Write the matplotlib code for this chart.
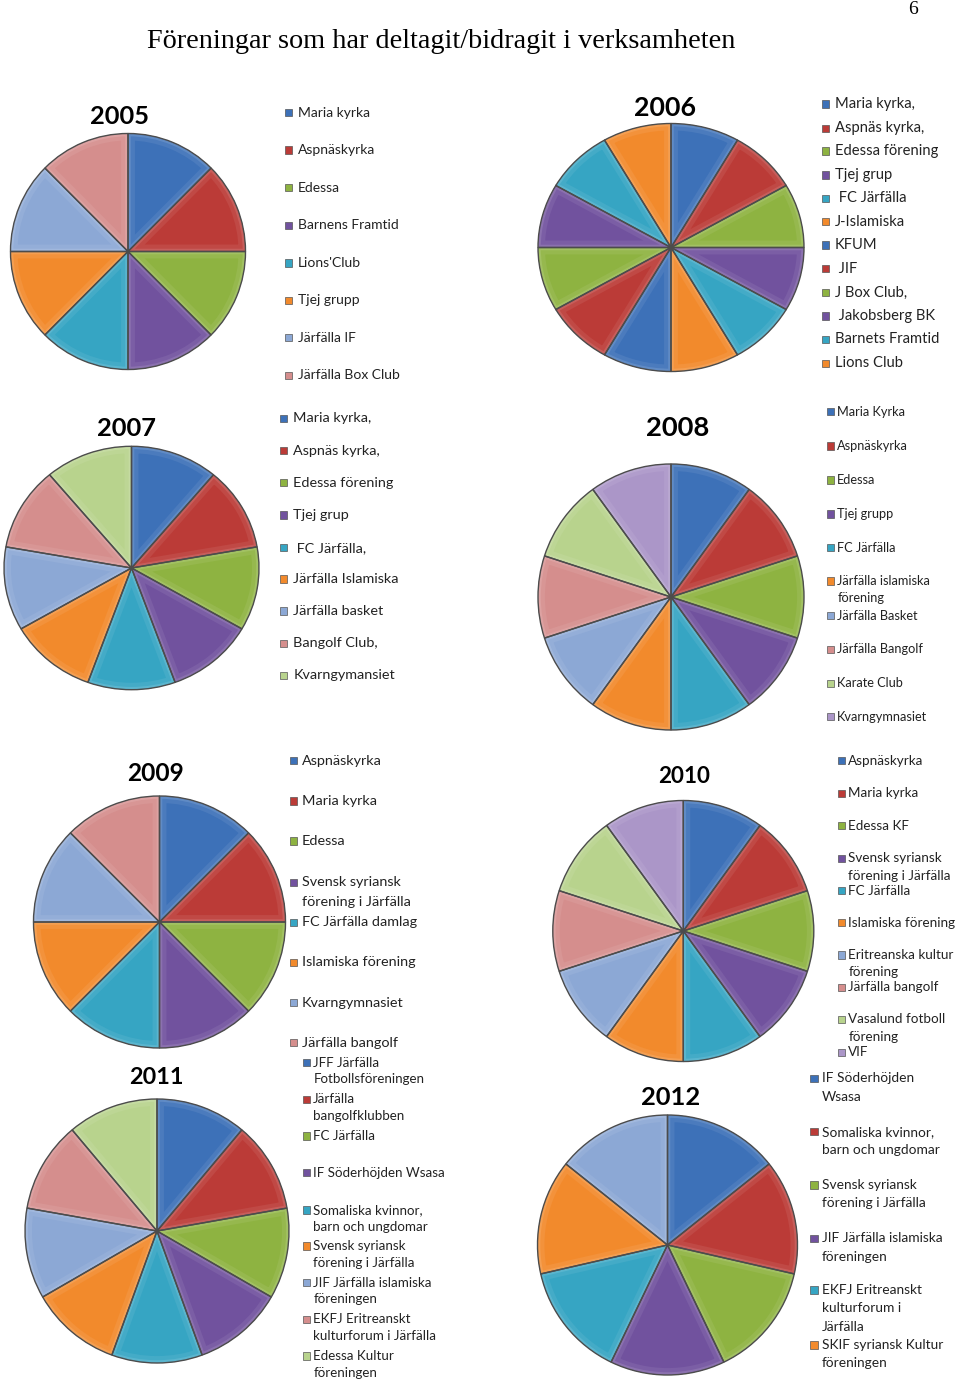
import matplotlib
matplotlib.use("Agg")
import matplotlib.pyplot as plt
from matplotlib.patches import Rectangle, Wedge
from matplotlib.colors import to_rgb

# ---------------- data ----------------
years = ["2005", "2006", "2007", "2008", "2009", "2010", "2011", "2012"]

labels_2005 = ["Maria kyrka", "Aspnäskyrka", "Edessa", "Barnens Framtid",
               "Lions'Club", "Tjej grupp", "Järfälla IF", "Järfälla Box Club"]
values_2005 = [1, 1, 1, 1, 1, 1, 1, 1]

labels_2006 = ["Maria kyrka,", "Aspnäs kyrka,", "Edessa förening", "Tjej grup",
               " FC Järfälla", "J-Islamiska", "KFUM", " JIF", "J Box Club,",
               " Jakobsberg BK", "Barnets Framtid", "Lions Club"]
values_2006 = [1, 1, 1, 1, 1, 1, 1, 1, 1, 1, 1, 1]

labels_2007 = ["Maria kyrka,", "Aspnäs kyrka,", "Edessa förening", "Tjej grup",
               " FC Järfälla,", "Järfälla Islamiska", "Järfälla basket",
               "Bangolf Club,", "Kvarngymansiet"]
values_2007 = [1, 1, 1, 1, 1, 1, 1, 1, 1]

labels_2008 = ["Maria Kyrka", "Aspnäskyrka", "Edessa", "Tjej grupp", "FC Järfälla",
               "Järfälla islamiska\nförening", "Järfälla Basket", "Järfälla Bangolf",
               "Karate Club", "Kvarngymnasiet"]
values_2008 = [1, 1, 1, 1, 1, 1, 1, 1, 1, 1]

labels_2009 = ["Aspnäskyrka", "Maria kyrka", "Edessa",
               "Svensk syriansk\nförening i Järfälla", "FC Järfälla damlag",
               "Islamiska förening", "Kvarngymnasiet", "Järfälla bangolf"]
values_2009 = [1, 1, 1, 1, 1, 1, 1, 1]

labels_2010 = ["Aspnäskyrka", "Maria kyrka", "Edessa KF",
               "Svensk syriansk\nförening i Järfälla", "FC Järfälla",
               "Islamiska förening", "Eritreanska kultur\nförening",
               "Järfälla bangolf", "Vasalund fotboll\nförening", "VIF"]
values_2010 = [1, 1, 1, 1, 1, 1, 1, 1, 1, 1]

labels_2011 = ["JFF Järfälla\nFotbollsföreningen", "Järfälla\nbangolfklubben",
               "FC Järfälla", "IF Söderhöjden Wsasa",
               "Somaliska kvinnor,\nbarn och ungdomar",
               "Svensk syriansk\nförening i Järfälla",
               "JIF Järfälla islamiska\nföreningen",
               "EKFJ Eritreanskt\nkulturforum i Järfälla",
               "Edessa Kultur\nföreningen"]
values_2011 = [1, 1, 1, 1, 1, 1, 1, 1, 1]

labels_2012 = ["IF Söderhöjden\nWsasa", "Somaliska kvinnor,\nbarn och ungdomar",
               "Svensk syriansk\nförening i Järfälla",
               "JIF Järfälla islamiska\nföreningen",
               "EKFJ Eritreanskt\nkulturforum i\nJärfälla",
               "SKIF syriansk Kultur\nföreningen"]
values_2012 = [1, 1, 1, 1, 1, 1, 1]

main_title = "Föreningar som har deltagit/bidragit i verksamheten"
page_number = "6"

# ---------------- style ----------------
pal_ext = ["#3D71B8", "#BB3B37", "#8EB341", "#71529E", "#36A5C3", "#F28A2C",
           "#8CA8D5", "#D58E8D", "#B8D38D", "#AB96C8"]
pal_rep = ["#3D71B8", "#BB3B37", "#8EB341", "#71529E", "#36A5C3", "#F28A2C"] * 2
EDGE = "#4C4C4C"

W, H = 960, 1381
fig = plt.figure(figsize=(W / 100, H / 100), dpi=100)
fig.patch.set_facecolor("white")
renderer = fig.canvas.get_renderer()


def fx(px):
    return px / W


def fy(py):
    return 1 - py / H


def lighten(c, f):
    r, g, b = to_rgb(c)
    return (r + (1 - r) * f, g + (1 - g) * f, b + (1 - b) * f)


def fit_text(t, target_w):
    w = t.get_window_extent(renderer).width
    t.set_fontsize(t.get_fontsize() * target_w / w)
    return t.get_fontsize()


def draw_pie(values, colors, cx, cy, rx, ry):
    ax = fig.add_axes([fx(cx - rx), fy(cy + ry), 2 * rx / W, 2 * ry / H])
    wedges, _ = ax.pie(values, colors=colors[:len(values)], startangle=90,
                       counterclock=False, radius=1,
                       wedgeprops=dict(edgecolor="none", linewidth=0))
    for w in wedges:
        w.set_clip_on(False)
        fc = w.get_facecolor()
        # soft bevel: lighter rim inside each wedge
        rim2 = Wedge(w.center, w.r, w.theta1, w.theta2, facecolor="none",
                     edgecolor=lighten(fc[:3], 0.07), linewidth=10, zorder=1.9)
        ax.add_patch(rim2)
        rim2.set_clip_path(w)
        rim = Wedge(w.center, w.r, w.theta1, w.theta2, facecolor="none",
                    edgecolor=lighten(fc[:3], 0.18), linewidth=4, zorder=2)
        ax.add_patch(rim)
        rim.set_clip_path(w)
        out = Wedge(w.center, w.r, w.theta1, w.theta2, facecolor="none",
                    edgecolor=EDGE, linewidth=1.0, zorder=3)
        out.set_clip_on(False)
        ax.add_patch(out)
    ax.set_xlim(-1, 1)
    ax.set_ylim(-1, 1)
    ax.set_aspect("auto")
    ax.axis("off")


def draw_title(txt, cx, cy, target_w):
    t = fig.text(fx(cx), fy(cy), txt, fontsize=20, family="Lato",
                 fontweight="bold", ha="center", va="center", color="black")
    fit_text(t, target_w)


def draw_legend(labels, colors, mx, tx, ys, gap, ref_w, sq=7.5):
    probe = fig.text(0, 0, labels[0].split("\n")[0], fontsize=10, family="Lato")
    fs = fit_text(probe, ref_w)
    probe.remove()
    for lab, col, y in zip(labels, colors, ys):
        fig.add_artist(Rectangle((fx(mx - sq / 2), fy(y + sq / 2)), sq / W, sq / H,
                                 transform=fig.transFigure, facecolor=col,
                                 edgecolor="#555555", linewidth=0.5))
        for i, line in enumerate(lab.split("\n")):
            fig.text(fx(tx), fy(y + i * gap), line, fontsize=fs, family="Lato",
                     ha="left", va="center", color="#222222")


# main title and page number
tt = fig.text(fx(147), fy(42), main_title, fontsize=20,
              family="Liberation Serif", ha="left", va="center", color="black")
fit_text(tt, 588)
fig.text(fx(913), fy(9), page_number, fontsize=14, family="Liberation Serif",
         ha="center", va="center", color="black")

# 2005
draw_pie(values_2005, pal_ext, 128, 251.5, 117.5, 118)
draw_title(years[0], 119.5, 116.7, 59)
draw_legend(labels_2005, pal_ext, 288.5, 297.7,
            [112.7, 150, 187.7, 225.3, 263, 300.3, 337.7, 375.3], 17, 72)

# 2006
draw_pie(values_2006, pal_rep, 671, 247.5, 133, 124)
draw_title(years[1], 665, 108.3, 62)
draw_legend(labels_2006, pal_rep, 825.3, 835,
            [104, 128.3, 151, 175, 198.3, 221.7, 245, 268.7, 292.7, 316, 339.3, 363.3],
            17, 80)

# 2007
draw_pie(values_2007, pal_ext, 131.5, 568, 127.5, 121.7)
draw_title(years[2], 127, 428.3, 59.3)
draw_legend(labels_2007, pal_ext, 283.3, 293.3,
            [418.3, 450.7, 482.7, 515, 547.7, 579, 611, 643.3, 675.3], 17, 78)

# 2008
draw_pie(values_2008, pal_ext, 671, 597, 133, 133)
draw_title(years[3], 677.5, 428.3, 63.7)
draw_legend(labels_2008, pal_ext, 830.3, 837.3,
            [411.7, 446, 480, 514, 547.7, 581, 615.7, 649.3, 683.3, 716.7], 17.3, 68)

# 2009
draw_pie(values_2009, pal_ext, 159.5, 922, 126, 126)
draw_title(years[4], 155.8, 773.3, 57)
draw_legend(labels_2009, pal_ext, 293.3, 301.7,
            [760.7, 801, 841, 882.3, 922.3, 962.3, 1002.7, 1042.7], 19.3, 80)

# 2010
draw_pie(values_2010, pal_ext, 683.3, 931, 130.5, 130.5)
draw_title(years[5], 684.5, 776, 52.3)
draw_legend(labels_2010, pal_ext, 841.3, 848.3,
            [760.7, 793.3, 825.7, 858.3, 890.7, 922.7, 955, 987.3, 1019.3, 1052.3],
            17.3, 75)

# 2011
draw_pie(values_2011, pal_ext, 157, 1231, 132, 132)
draw_title(years[6], 156, 1077.3, 54.3)
draw_legend(labels_2011, pal_ext, 306.7, 313.3,
            [1062.7, 1099.3, 1136, 1172.7, 1210, 1246, 1282.7, 1319.3, 1356],
            16.7, 65)

# 2012
draw_pie(values_2012, pal_ext, 667.5, 1245, 130, 130)
draw_title(years[7], 671, 1097.3, 59)
draw_legend(labels_2012, pal_ext, 814, 821.7,
            [1078.3, 1131.7, 1185, 1238.3, 1290, 1345], 18.3, 92)

fig.savefig("out.png", dpi=100, facecolor="white")
